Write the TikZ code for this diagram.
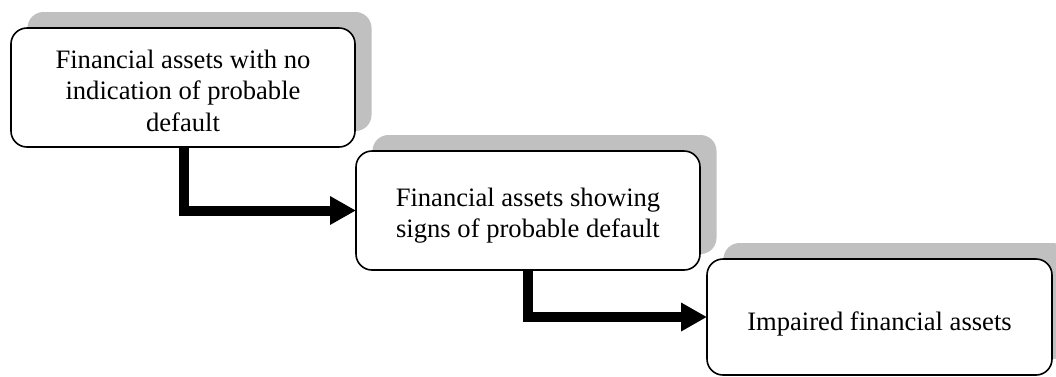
\documentclass[tikz,border=0pt]{standalone}
\usepackage{fontspec}
\setmainfont{Liberation Serif}
\usetikzlibrary{arrows.meta,shadows}
\definecolor{shadowgray}{HTML}{C0C0C0}
\tikzset{
  x=1pt, y=1pt,
  stagebox/.style={draw=black, line width=1.6pt, fill=white, rounded corners=16pt,
    minimum width=344pt, minimum height=119pt, inner sep=0pt, outer sep=0pt,
    general shadow={fill=shadowgray, draw=none, shadow xshift=16.5pt, shadow yshift=16pt}},
  boxtext/.style={align=center, inner sep=0pt, font=\fontsize{26.6}{31.5}\selectfont},
  flow/.style={line width=10pt, -{Triangle[length=26pt,width=27pt]}}
}
\begin{document}
\begin{tikzpicture}
\useasboundingbox (0,0) rectangle (1056,-376);
\node[stagebox, label={[boxtext, yshift=-3pt]center:{Financial assets with no\\indication of probable\\default}}] (b1) at (183,-87.5) {};
\node[stagebox, label={[boxtext, yshift=-5pt]center:{Financial assets showing\\signs of probable default}}] (b2) at (528,-210.5) {};
\node[stagebox, minimum width=345pt, minimum height=116pt, label={[boxtext, yshift=-6.5pt]center:{Impaired financial assets}}] (b3) at (879.5,-317) {};
\draw[flow] ([xshift=1pt]b1.south) |- (b2.west);
\draw[flow] (b2.south) |- (b3.west);
\end{tikzpicture}
\end{document}
